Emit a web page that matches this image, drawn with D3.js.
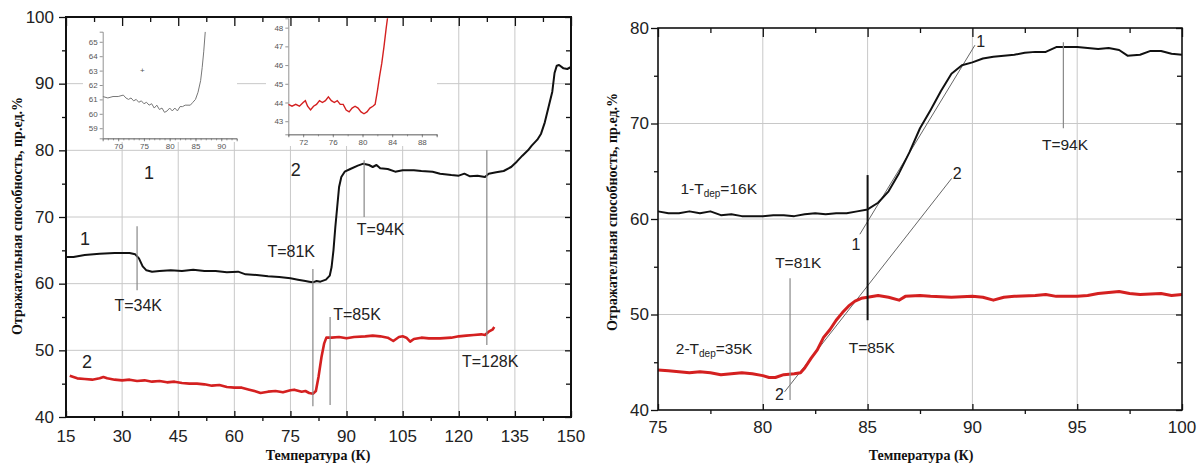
<!DOCTYPE html>
<html>
<head>
<meta charset="utf-8">
<title>Отражательная способность</title>
<style>
body { margin: 0; background: #fff; }
svg { display: block; }
.tick-label { font-family: "Liberation Sans", Arial, sans-serif; font-size: 17px; fill: #222; }
.note { font-family: "Liberation Sans", Arial, sans-serif; fill: #222; }
.axis-title { font-family: "Liberation Serif", "Times New Roman", serif; font-weight: bold; font-size: 14px; fill: #111; }
.inset text { font-family: "Liberation Sans", Arial, sans-serif; font-size: 8px; fill: #555; }
.grid line { stroke: #c8c8c8; stroke-width: 1; }
</style>
</head>
<body>
<div id="chart"></div>
<script src="https://cdnjs.cloudflare.com/ajax/libs/d3/7.8.5/d3.min.js"></script>
<script>

// ---- data (T in K, reflectance in %) ----
var curve1Left = [[15,64.0],[17,64.0],[20,64.3],[24,64.5],[28,64.6],[32,64.6],[33.5,64.4],[34.5,63.8],[35.5,62.6],
  [36.5,62.0],[38,61.8],[40,61.9],[43,62.0],[46,61.9],[49,62.1],[52,61.9],[55,61.9],[58,61.7],[61,61.8],[63,61.4],
  [66,61.3],[69,61.1],[72,61.0],[75,60.8],[77,60.6],[79,60.4],[80,60.3],[81,60.2],[82,60.4],[83,60.3],[84.5,60.6],
  [85.5,61.2],[86,62.5],[86.5,65],[87,68.5],[87.5,71.5],[88,74.5],[88.6,76],[89.5,76.8],[91,77.2],[93,77.7],
  [94.5,78.0],[96,77.8],[97,77.5],[98,77.8],[99,77.3],[101,77.2],[103,76.8],[105,77.0],[108,77.0],[110,76.9],
  [113,76.8],[115,76.5],[118,76.3],[120,76.2],[121.5,76.5],[123,76.1],[125,76.2],[127,76.0],[128,76.5],[130,76.7],
  [132,76.9],[134,77.5],[135.5,78.3],[137,79.2],[138.5,80.0],[139.5,80.7],[141,81.6],[142,82.5],[143,84.2],
  [144,86.5],[145,88.8],[145.6,91.6],[146.2,92.7],[146.8,92.8],[148,92.3],[149,92.2],[150,92.5]];

var curve2Left = [[16,46.2],[17,46.0],[18,45.8],[20,45.7],[22,45.6],[24,45.8],[25,46.0],[26,45.8],[28,45.6],
  [30,45.5],[32,45.6],[34,45.4],[36,45.5],[38,45.3],[40,45.4],[42,45.2],[44,45.3],[46,45.1],[48,45.0],[50,45.0],
  [52,44.9],[54,44.7],[56,44.8],[58,44.5],[60,44.4],[62,44.4],[64,44.1],[66,43.8],[67,43.6],[69,43.8],[71,43.9],
  [73,43.7],[75,44.0],[76,44.1],[78,43.8],[79,43.9],[80,43.6],[81,43.5],[81.8,43.9],[82.5,46.0],[83.3,49.0],
  [84,51.0],[84.6,51.9],[86,51.9],[88,52.0],[90,51.8],[92,52.0],[95,52.1],[97,52.2],[99,52.1],[101,51.9],
  [102.5,51.4],[104,52.0],[105,52.1],[106,51.9],[107,51.3],[108,51.7],[110,51.9],[112,51.8],[115,51.8],
  [118,51.9],[120,52.1],[122,52.2],[124,52.3],[126,52.4],[127,52.3],[128,52.8],[129,53.1],[129.5,53.5]];

var inset1Curve = [[67,61.2],[68,61.1],[69,61.2],[70,61.2],[71,61.3],[71.5,61.1],[72,61.0],[72.5,61.1],[73,60.9],
  [73.5,61.0],[74,60.8],[74.5,60.9],[75,60.7],[75.5,60.8],[76,60.6],[76.5,60.7],[77,60.4],[77.5,60.6],[78,60.3],
  [78.5,60.4],[79,60.1],[79.5,60.2],[80,60.4],[80.5,60.2],[81,60.4],[81.5,60.2],[82,60.5],[82.5,60.5],[83,60.6],
  [84,60.6],[84.5,60.8],[85,61.0],[85.5,61.5],[86,62.3],[86.3,63.2],[86.6,64.3],[86.9,65.7]];

var inset2Curve = [[70,43.9],[70.5,43.8],[71,43.9],[71.5,43.8],[72,44.0],[72.3,44.1],[72.6,43.8],[73,43.6],
  [73.4,43.8],[73.8,43.9],[74.2,44.1],[74.6,44.0],[75,44.1],[75.4,44.3],[75.8,44.1],[76.2,44.0],[76.6,44.1],
  [77,43.9],[77.4,43.9],[77.8,43.6],[78.2,43.5],[78.6,43.7],[79,43.8],[79.4,43.7],[79.8,43.5],[80.2,43.4],
  [80.6,43.5],[81,43.7],[81.4,43.8],[81.7,43.9],[82,44.6],[82.3,45.4],[82.6,46.1],[82.9,47.0],[83.2,48.0],[83.4,48.6]];

var curve1Right = [[75,60.8],[75.5,60.6],[76,60.6],[76.5,60.8],[77,60.6],[77.5,60.8],[78,60.4],[78.5,60.5],
  [79,60.3],[79.5,60.3],[80,60.3],[80.5,60.4],[81,60.4],[81.5,60.3],[82,60.5],[82.5,60.6],[83,60.5],[83.5,60.6],
  [84,60.6],[84.5,60.8],[85,61.0],[85.5,61.7],[86,62.9],[86.5,64.8],[87,67.0],[87.5,69.5],[88,71.4],[88.5,73.4],
  [89,75.2],[89.5,76.1],[90,76.4],[90.5,76.8],[91,77.0],[91.5,77.1],[92,77.2],[92.5,77.4],[93,77.5],[93.5,77.5],
  [94,78.0],[94.5,78.0],[95,78.0],[95.5,77.9],[96,77.8],[96.5,77.9],[97,77.7],[97.4,77.1],[98,77.2],[98.5,77.6],
  [99,77.6],[99.5,77.3],[100,77.2]];

var curve2Right = [[75,44.2],[75.5,44.1],[76,44.0],[76.5,43.9],[77,44.0],[77.5,43.9],[78,43.7],[78.5,43.8],
  [79,43.9],[79.5,43.8],[80,43.6],[80.3,43.4],[80.6,43.4],[81,43.7],[81.5,43.8],[81.8,43.9],[82,44.4],[82.3,45.4],
  [82.6,46.3],[82.9,47.6],[83.2,48.4],[83.5,49.4],[83.8,50.2],[84.1,50.9],[84.4,51.4],[84.7,51.7],[85,51.8],
  [85.5,52.0],[86,51.8],[86.5,51.5],[86.8,51.9],[87.5,52.0],[88,51.9],[89,51.8],[90,51.9],[90.5,51.8],[91,51.5],
  [91.5,51.8],[92,51.9],[93,52.0],[93.5,52.1],[94,51.9],[95,51.9],[95.5,52.0],[96,52.2],[96.5,52.3],[97,52.4],
  [97.5,52.2],[98,52.1],[99,52.2],[99.5,52.0],[100,52.1]];

// ticks
var leftXTicks = [15,30,45,60,75,90,105,120,135,150];
var leftYTicks = [40,50,60,70,80,90,100];
var rightXTicks = [75,80,85,90,95,100];
var rightYTicks = [40,50,60,70,80];
var inset1XTicks = [70,75,80,85,90];
var inset1YTicks = [59,60,61,62,63,64,65];
var inset2XTicks = [72,76,80,84,88];
var inset2YTicks = [43,44,45,46,47,48];

// marker lines: T, from, to
var leftMarks = [[34,68.6,59.0],[81,62.2,41.6],[85.6,55.0,41.8],[94.7,78.5,70],[127.5,80,50.8]];
var rightMarks = [[81.3,53.8,41.05],[94.34,78.5,69.5]];
var rightEdge = [85,64.6,49.4];
var tangents = [[[84.63,58.4],[90.12,78.2]],[[81.04,41.9],[89.01,64.25]]];

// labels: text, T, value
var leftNotes = [["T=34K",34.3,56.8],["T=81K",75.2,64.8],["T=85K",92.8,55.4],["T=94K",99.1,68.1],["T=128K",128.4,48.3]];
var leftNums = [["1",20.1,66.7],["2",20.6,48.3],["1",37.2,76.6],["2",76.4,77.1]];
var rightNotes = [["T=81K",81.69,55.4],["T=94K",94.42,67.8],["T=85K",85.2,46.5]];
var rightNums = [["1",90.4,78.6],["1",84.45,57.3],["2",89.27,64.8],["2",80.8,41.6]];

var xTitle = "Температура (К)";
var yTitle = "Отражательная способность, пр.ед.%";

var W = 1204, H = 466;
var svg = d3.select("#chart").append("svg").attr("width", W).attr("height", H);

var xL = d3.scaleLinear().domain([15,150]).range([66,571]);
var yL = d3.scaleLinear().domain([40,100]).range([417,17]);
var xR = d3.scaleLinear().domain([75,100]).range([658,1182]);
var yR = d3.scaleLinear().domain([40,80]).range([410,28]);

function grid(xs, ys, xv, yv) {
  var g = svg.append("g").attr("class","grid");
  g.selectAll(".v").data(xv).join("line")
    .attr("x1", xs).attr("x2", xs).attr("y1", ys.range()[0]).attr("y2", ys.range()[1]);
  g.selectAll(".h").data(yv).join("line")
    .attr("y1", ys).attr("y2", ys).attr("x1", xs.range()[0]).attr("x2", xs.range()[1]);
}

function frame(xs, ys, xt, yt, sw, labelOffX, labelOffY) {
  var x0 = xs.range()[0], x1 = xs.range()[1], y0 = ys.range()[1], y1 = ys.range()[0];
  var g = svg.append("g");
  var xm = d3.pairs(xt).map(function(p){ return (p[0]+p[1])/2; });
  var ym = d3.pairs(yt).map(function(p){ return (p[0]+p[1])/2; });
  function ax(gen, sc, vals, size, tx, ty) {
    var a = g.append("g").attr("transform","translate("+tx+","+ty+")")
      .call(gen(sc).tickValues(vals).tickSize(size).tickFormat(""));
    a.select(".domain").remove();
    a.selectAll("line").attr("stroke","#111").attr("stroke-width",1.3);
  }
  ax(d3.axisBottom, xs, xt, -6, 0, y1);
  ax(d3.axisBottom, xs, xm, 4, 0, y1);
  ax(d3.axisTop, xs, xt, -9, 0, y0);
  ax(d3.axisTop, xs, xm, -5, 0, y0);
  ax(d3.axisLeft, ys, yt, 7, x0, 0);
  ax(d3.axisLeft, ys, ym, 4, x0, 0);
  ax(d3.axisRight, ys, yt, -6, x1, 0);
  ax(d3.axisRight, ys, ym, -5, x1, 0);
  g.append("rect").attr("x",x0).attr("y",y0).attr("width",x1-x0).attr("height",y1-y0)
    .attr("fill","none").attr("stroke","#111").attr("stroke-width",sw);
  g.selectAll(".xl").data(xt).join("text").attr("class","tick-label")
    .attr("x", xs).attr("y", y1 + labelOffX).attr("text-anchor","middle").attr("dominant-baseline","central")
    .text(function(d){ return d; });
  g.selectAll(".yl").data(yt).join("text").attr("class","tick-label")
    .attr("x", x0 - labelOffY).attr("y", ys).attr("text-anchor","end").attr("dominant-baseline","central")
    .text(function(d){ return d; });
}

function curve(xs, ys, data, color, w) {
  svg.append("path").datum(data)
    .attr("d", d3.line().x(function(d){ return xs(d[0]); }).y(function(d){ return ys(d[1]); }))
    .attr("fill","none").attr("stroke",color).attr("stroke-width",w).attr("stroke-linejoin","round");
}

function marks(xs, ys, data, color, w) {
  svg.append("g").selectAll("line").data(data).join("line")
    .attr("x1", function(d){ return xs(d[0]); }).attr("x2", function(d){ return xs(d[0]); })
    .attr("y1", function(d){ return ys(d[1]); }).attr("y2", function(d){ return ys(d[2]); })
    .attr("stroke", color).attr("stroke-width", w);
}

function notes(xs, ys, data, size) {
  svg.append("g").selectAll("text").data(data).join("text").attr("class","note")
    .attr("x", function(d){ return xs(d[1]); }).attr("y", function(d){ return ys(d[2]); })
    .attr("text-anchor","middle").attr("dominant-baseline","central").attr("font-size", size)
    .text(function(d){ return d[0]; });
}

// ================= left panel =================
grid(xL, yL, leftXTicks.slice(1,-1), leftYTicks.slice(1,-1));

// inset backgrounds (cover the grid)
svg.append("rect").attr("x",83).attr("y",19).attr("width",154).attr("height",123).attr("fill","#fff");
svg.append("rect").attr("x",266).attr("y",19).attr("width",171).attr("height",127).attr("fill","#fff");

function inset(xs, ys, xt, yt, data, color, w, minorX) {
  var g = svg.append("g").attr("class","inset");
  var x0 = xs.range()[0], y1 = ys.range()[0];
  var fmt = d3.format("d");
  var b = g.append("g").attr("transform","translate(0,"+y1+")")
    .call(d3.axisBottom(xs).tickValues(xt).tickSize(3).tickPadding(2).tickFormat(fmt));
  var bm = g.append("g").attr("transform","translate(0,"+y1+")")
    .call(d3.axisBottom(xs).tickValues(minorX).tickSize(2).tickFormat(""));
  var l = g.append("g").attr("transform","translate("+x0+",0)")
    .call(d3.axisLeft(ys).tickValues(yt).tickSize(3).tickPadding(2).tickFormat(fmt));
  [b, bm, l].forEach(function(a){
    a.selectAll("path,line").attr("stroke","#777").attr("stroke-width",0.8);
    a.selectAll("text").attr("font-family",null).attr("font-size",null);
  });
  var cid = "clip" + Math.round(x0);
  g.append("clipPath").attr("id", cid).append("rect")
    .attr("x", x0).attr("y", ys.range()[1]).attr("width", xs.range()[1]-x0).attr("height", y1-ys.range()[1]);
  g.append("path").datum(data).attr("clip-path","url(#"+cid+")")
    .attr("d", d3.line().x(function(d){ return xs(d[0]); }).y(function(d){ return ys(d[1]); }))
    .attr("fill","none").attr("stroke",color).attr("stroke-width",w);
  return g;
}

var xI1 = d3.scaleLinear().domain([67,93]).range([102.7,236.7]);
var yI1 = d3.scaleLinear().domain([58.3,65.7]).range([138.3,31.7]);
var in1 = inset(xI1, yI1, inset1XTicks, inset1YTicks, inset1Curve, "#777", 1, d3.range(68,93,1));
in1.append("text").attr("x", xI1(74.7)).attr("y", yI1(63.0)).attr("text-anchor","middle")
  .attr("dominant-baseline","central").attr("font-size","7px").text("+");

var xI2 = d3.scaleLinear().domain([70,90]).range([288.3,436.7]);
var yI2 = d3.scaleLinear().domain([42.3,48.5]).range([134.3,18.3]);
inset(xI2, yI2, inset2XTicks, inset2YTicks, inset2Curve, "#d42020", 1.4, d3.range(70,91,2));

curve(xL, yL, curve1Left, "#111", 2);
curve(xL, yL, curve2Left, "#d42020", 2.6);
marks(xL, yL, leftMarks, "#888", 1.2);
notes(xL, yL, leftNotes, "16px");
notes(xL, yL, leftNums, "18px");
frame(xL, yL, leftXTicks, leftYTicks, 2, 19, 12);

svg.append("text").attr("class","axis-title").attr("x", 318).attr("y", 455)
  .attr("text-anchor","middle").attr("dominant-baseline","central").text(xTitle);
svg.append("text").attr("class","axis-title").attr("transform","translate(17,216) rotate(-90)")
  .attr("text-anchor","middle").attr("dominant-baseline","central").text(yTitle);

// ================= right panel =================
grid(xR, yR, rightXTicks.slice(1,-1), rightYTicks.slice(1,-1));

svg.append("g").selectAll("line").data(tangents).join("line")
  .attr("x1", function(d){ return xR(d[0][0]); }).attr("y1", function(d){ return yR(d[0][1]); })
  .attr("x2", function(d){ return xR(d[1][0]); }).attr("y2", function(d){ return yR(d[1][1]); })
  .attr("stroke","#666").attr("stroke-width",1);

curve(xR, yR, curve1Right, "#111", 2);
curve(xR, yR, curve2Right, "#d42020", 3);
marks(xR, yR, rightMarks, "#888", 1.2);
marks(xR, yR, [rightEdge], "#111", 2);
notes(xR, yR, rightNotes, "15.5px");
notes(xR, yR, rightNums, "16px");

// labels with subscript
[["1-T","dep","=16K",76.07,63.2],["2-T","dep","=35K",75.85,46.5]].forEach(function(d){
  var t = svg.append("text").attr("class","note").attr("font-size","15.5px")
    .attr("x", xR(d[3])).attr("y", yR(d[4])).attr("dominant-baseline","central");
  t.append("tspan").text(d[0]);
  t.append("tspan").attr("font-size","10px").attr("dy", 5).text(d[1]);
  t.append("tspan").attr("dy", -5).text(d[2]);
});

frame(xR, yR, rightXTicks, rightYTicks, 1.6, 17, 9);

svg.append("text").attr("class","axis-title").attr("x", 921).attr("y", 455)
  .attr("text-anchor","middle").attr("dominant-baseline","central").text(xTitle);
svg.append("text").attr("class","axis-title").attr("transform","translate(612,212) rotate(-90)")
  .attr("text-anchor","middle").attr("dominant-baseline","central").text(yTitle);

</script>
</body>
</html>
